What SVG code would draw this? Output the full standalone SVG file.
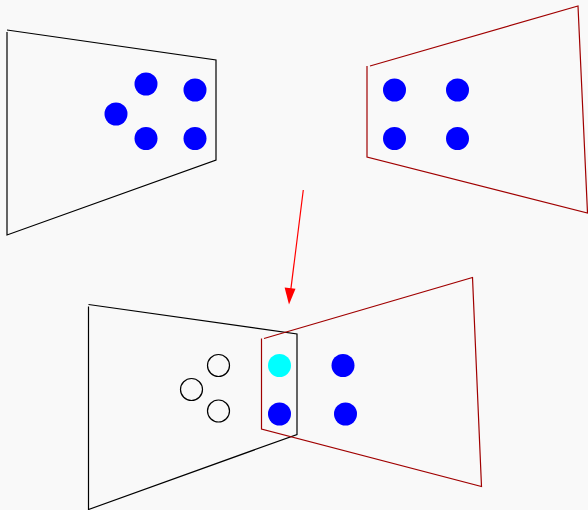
<svg xmlns="http://www.w3.org/2000/svg" width="588" height="510" viewBox="0 0 588 510">
<defs>
<style>
.blk{fill:none;stroke:#000;stroke-width:1.2}
.red{fill:none;stroke:#a00000;stroke-width:1.2}
.dot{fill:#0000ff}
.cyan{fill:#00ffff}
.open{fill:none;stroke:#000;stroke-width:1.2}
</style>
<marker id="ah" markerWidth="10" markerHeight="17" refX="5" refY="17" orient="auto" markerUnits="userSpaceOnUse" viewBox="0 0 10 17">
<path d="M0,0 L10,0 L5,17 Z" fill="#ff0000" transform="rotate(0)"/>
</marker>
</defs>
<rect width="588" height="510" fill="#f9f9f9"/>
<g id="top-left">
<path class="blk" d="M7,30 L216,60 L216,160 L7,235 L7,32"/>
<circle class="dot" cx="146" cy="84" r="11.5"/>
<circle class="dot" cx="195" cy="90" r="11.5"/>
<circle class="dot" cx="116" cy="114" r="11.5"/>
<circle class="dot" cx="146" cy="138.5" r="11.5"/>
<circle class="dot" cx="195" cy="138.5" r="11.5"/>
</g>
<g id="top-right">
<path class="red" d="M370,66 L578,6 L587.5,213 L367,157 L367,66"/>
<circle class="dot" cx="394.5" cy="90" r="11.5"/>
<circle class="dot" cx="457.5" cy="90" r="11.5"/>
<circle class="dot" cx="394.5" cy="138.5" r="11.5"/>
<circle class="dot" cx="457.5" cy="138.5" r="11.5"/>
</g>
<g id="connectors">
<line x1="303.3" y1="190" x2="290.5" y2="292" stroke="#ff0000" stroke-width="1.2"/>
<path d="M284.6,287.5 L295.5,288.8 L289,304.5 Z" fill="#ff0000"/>
</g>
<g id="bottom-left">
<path class="blk" d="M88.5,304.5 L297,334 L297,434.5 L88.5,509.5 L88.5,306.5"/>
<circle class="open" cx="218.5" cy="365.5" r="11"/>
<circle class="open" cx="191.5" cy="389.5" r="11"/>
<circle class="open" cx="218.5" cy="411" r="11"/>
</g>
<g id="bottom-right">
<path class="red" d="M264,338.5 L472.5,277.5 L481.5,486.5 L261.5,429 L261.5,338.5"/>
<circle class="cyan" cx="279.5" cy="365.5" r="11.5"/>
<circle class="dot" cx="279.5" cy="414" r="11.5"/>
<circle class="dot" cx="343" cy="365.5" r="11.5"/>
<circle class="dot" cx="345.5" cy="414" r="11.5"/>
</g>
</svg>
